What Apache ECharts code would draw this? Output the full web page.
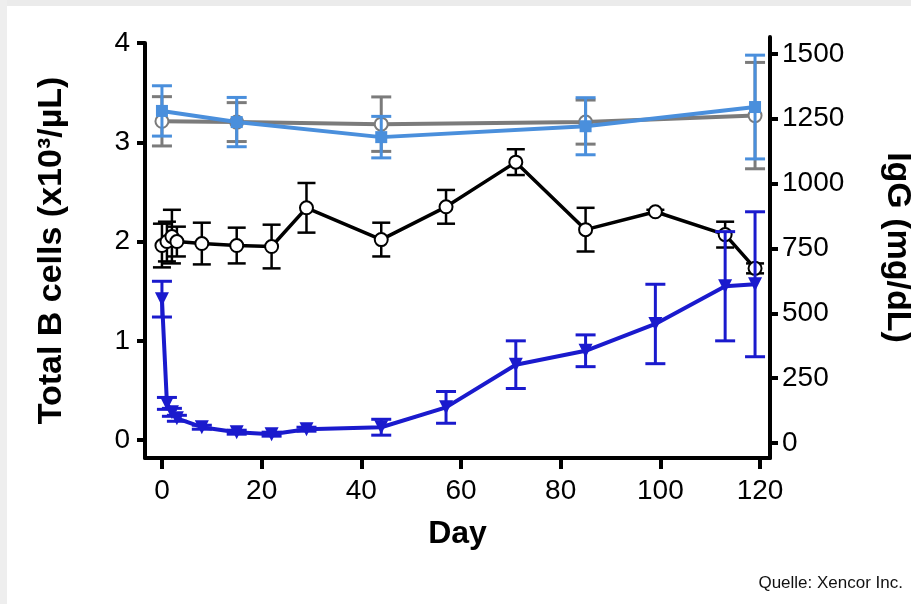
<!DOCTYPE html>
<html>
<head>
<meta charset="utf-8">
<script src="https://cdn.jsdelivr.net/npm/echarts@6/dist/echarts.min.js"></script>
<style>
html,body{margin:0;padding:0;background:#fff;}
#chart{width:911px;height:604px;}
</style>
</head>
<body>
<div id="chart"></div>
<script>
// ---- data ----
var xTicks = [0, 20, 40, 60, 80, 100, 120];
var leftTicks = [0, 1, 2, 3, 4];
var rightTicks = [0, 250, 500, 750, 1000, 1250, 1500];

var blackDays = [0, 1, 2, 3, 8, 15, 22, 29, 44, 57, 71, 85, 99, 113, 119];
var blackVals = [1.96, 2.00, 2.05, 2.00, 1.98, 1.96, 1.95, 2.34, 2.02, 2.35, 2.80, 2.12, 2.30, 2.07, 1.73];
var blackErr  = [0.22, 0.20, 0.27, 0.15, 0.21, 0.18, 0.22, 0.25, 0.17, 0.17, 0.13, 0.22, 0.02, 0.13, 0.05];

var blueDays = [0, 1, 2, 3, 8, 15, 22, 29, 44, 57, 71, 85, 99, 113, 119];
var blueVals = [1.42, 0.37, 0.28, 0.22, 0.13, 0.08, 0.06, 0.11, 0.13, 0.33, 0.76, 0.90, 1.17, 1.55, 1.57];
var blueErr  = [0.18, 0.06, 0.04, 0.03, 0.02, 0.02, 0.02, 0.02, 0.08, 0.16, 0.24, 0.16, 0.40, 0.55, 0.73];

var grayDays = [0, 15, 44, 85, 119];
var grayVals = [1240, 1237, 1229, 1237, 1262];
var grayErr  = [95, 75, 105, 85, 205];

var lblueDays = [0, 15, 44, 85, 119];
var lblueVals = [1280, 1237, 1179, 1221, 1295];
var lblueErr  = [97, 95, 80, 110, 200];

// ---- build ----
function zip3(a, b, c) { return a.map(function (v, i) { return [v, b[i], c[i]]; }); }
function zip2(a, b) { return a.map(function (v, i) { return [v, b[i]]; }); }

function errRender(color, half, lw) {
  return function (params, api) {
    var x = api.value(0), y = api.value(1), e = api.value(2);
    var p1 = api.coord([x, y + e]), p2 = api.coord([x, y - e]);
    var st = { stroke: color, lineWidth: lw };
    return {
      type: 'group',
      children: [
        { type: 'line', shape: { x1: p1[0], y1: p1[1], x2: p2[0], y2: p2[1] }, style: st },
        { type: 'line', shape: { x1: p1[0] - half, y1: p1[1], x2: p1[0] + half, y2: p1[1] }, style: st },
        { type: 'line', shape: { x1: p2[0] - half, y1: p2[1], x2: p2[0] + half, y2: p2[1] }, style: st }
      ]
    };
  };
}

var FONT = 'Liberation Sans, Arial, sans-serif';
var cGray = '#7b7b7b', cLBlue = '#4a8fdc', cBlack = '#000000', cBlue = '#1a1acd';
var plain = function (v) { return String(v); };

var chart = echarts.init(document.getElementById('chart'), null, { renderer: 'canvas' });

var xCommon = {
  type: 'value', min: -3.4, max: 122,
  splitLine: { show: false }
};

var option = {
  backgroundColor: '#ffffff',
  animation: false,
  grid: [
    { left: 145, right: 141, top: 43, bottom: 146, containLabel: false, outerBoundsMode: 'none' },
    { left: 145, right: 141, top: 37, bottom: 146, containLabel: false, outerBoundsMode: 'none' }
  ],
  xAxis: [
    Object.assign({}, xCommon, {
      gridIndex: 0,
      name: 'Day', nameLocation: 'middle', nameGap: 60,
      nameTextStyle: { fontFamily: FONT, fontSize: 32, fontWeight: 'bold', color: '#000' },
      axisLine: { show: true, onZero: false, lineStyle: { color: '#000', width: 4 } },
      axisTick: { show: true, length: 11, lineStyle: { color: '#000', width: 4 }, customValues: xTicks },
      axisLabel: { show: true, margin: 19, fontFamily: FONT, fontSize: 28, color: '#000', customValues: xTicks, formatter: plain }
    }),
    Object.assign({}, xCommon, {
      gridIndex: 1, show: false
    })
  ],
  yAxis: [
    {
      type: 'value', gridIndex: 0, position: 'left', min: -0.18, max: 4,
      name: 'Total B cells (x10\u00B3/\u00B5L)', nameLocation: 'middle', nameGap: 76, nameRotate: 90,
      nameTextStyle: { fontFamily: FONT, fontSize: 34, fontWeight: 'bold', color: '#000' },
      splitLine: { show: false },
      axisLine: { show: true, onZero: false, lineStyle: { color: '#000', width: 4 } },
      axisTick: { show: true, length: 8, lineStyle: { color: '#000', width: 4 }, customValues: leftTicks },
      axisLabel: { margin: 15, fontFamily: FONT, fontSize: 28, color: '#000', customValues: leftTicks, formatter: plain }
    },
    {
      type: 'value', gridIndex: 1, position: 'right', min: -58, max: 1565,
      name: 'IgG (mg/dL)', nameLocation: 'middle', nameGap: 110, nameRotate: -90,
      nameTextStyle: { fontFamily: FONT, fontSize: 34, fontWeight: 'bold', color: '#000' },
      splitLine: { show: false },
      axisLine: { show: true, onZero: false, lineStyle: { color: '#000', width: 4 } },
      axisTick: { show: true, length: 8, lineStyle: { color: '#000', width: 4 }, customValues: rightTicks },
      axisLabel: { margin: 12, fontFamily: FONT, fontSize: 28, color: '#000', customValues: rightTicks, formatter: plain }
    }
  ],
  graphic: [
    { type: 'rect', left: 0, top: 0, shape: { width: 911, height: 6 }, style: { fill: '#ebebeb' }, z: 100 },
    { type: 'rect', left: 0, top: 0, shape: { width: 7, height: 604 }, style: { fill: '#eeeeee' }, z: 100 },
    { type: 'text', right: 8, top: 575, style: { text: 'Quelle: Xencor Inc.', font: '17px Liberation Sans, Arial, sans-serif', fill: '#111' } }
  ],
  series: [
    { type: 'custom', xAxisIndex: 1, yAxisIndex: 1, renderItem: errRender(cGray, 10, 3), data: zip3(grayDays, grayVals, grayErr), z: 2 },
    { type: 'line', xAxisIndex: 1, yAxisIndex: 1, data: zip2(grayDays, grayVals), symbol: 'emptyCircle', symbolSize: 13,
      lineStyle: { color: cGray, width: 4 }, itemStyle: { color: cGray, borderWidth: 2.5 }, z: 3 },
    { type: 'custom', xAxisIndex: 1, yAxisIndex: 1, renderItem: errRender(cLBlue, 10, 3), data: zip3(lblueDays, lblueVals, lblueErr), z: 4 },
    { type: 'line', xAxisIndex: 1, yAxisIndex: 1, data: zip2(lblueDays, lblueVals), symbol: 'rect', symbolSize: 12,
      lineStyle: { color: cLBlue, width: 4 }, itemStyle: { color: cLBlue }, z: 5 },
    { type: 'custom', xAxisIndex: 0, yAxisIndex: 0, renderItem: errRender(cBlack, 9, 2.5), data: zip3(blackDays, blackVals, blackErr), z: 6 },
    { type: 'line', xAxisIndex: 0, yAxisIndex: 0, data: zip2(blackDays, blackVals), symbol: 'emptyCircle', symbolSize: 13,
      lineStyle: { color: cBlack, width: 3.5 }, itemStyle: { color: cBlack, borderWidth: 2.5 }, z: 7 },
    { type: 'custom', xAxisIndex: 0, yAxisIndex: 0, renderItem: errRender(cBlue, 10, 3), data: zip3(blueDays, blueVals, blueErr), z: 8 },
    { type: 'line', xAxisIndex: 0, yAxisIndex: 0, data: zip2(blueDays, blueVals), symbol: 'triangle', symbolRotate: 180, symbolSize: 14,
      lineStyle: { color: cBlue, width: 4 }, itemStyle: { color: cBlue }, z: 9 }
  ]
};
chart.setOption(option);
</script>
</body>
</html>
